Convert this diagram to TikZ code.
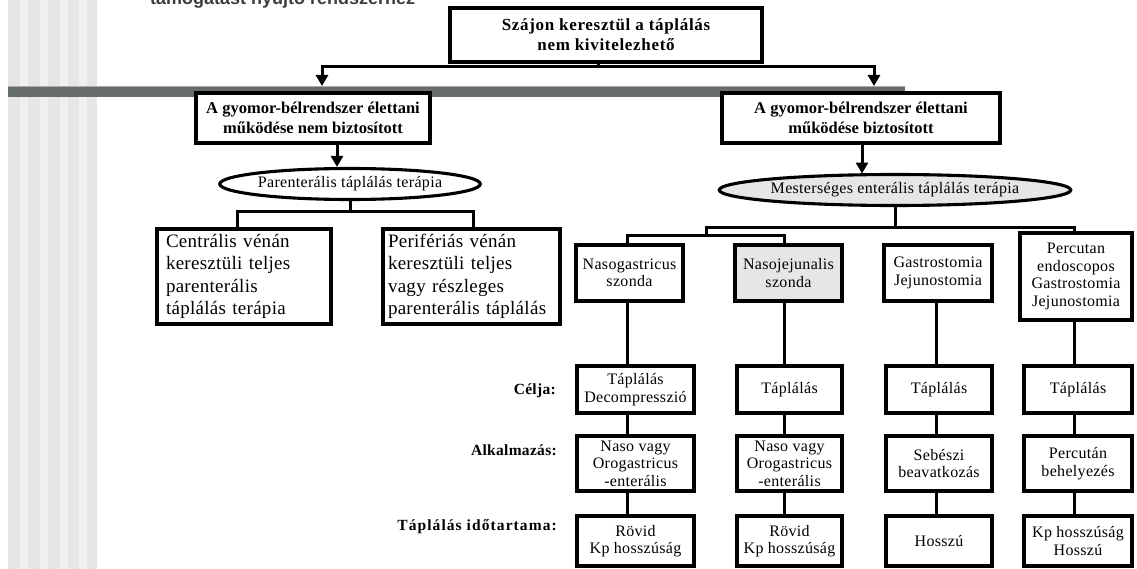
\documentclass[tikz,border=0pt]{standalone}
\usepackage{fontspec}
\setmainfont{Liberation Serif}
\newfontfamily\headfont{Liberation Sans}
\usetikzlibrary{arrows.meta,shapes.geometric}
\definecolor{stripeA}{HTML}{E6E6E6}
\definecolor{stripeB}{HTML}{EFF0EF}
\definecolor{barcol}{HTML}{676D6B}
\definecolor{barlight}{HTML}{A9AEAC}
\definecolor{shade}{HTML}{E6E6E6}
\definecolor{headcol}{HTML}{3C3C3C}
\newcommand\spaced[1]{\addfontfeature{LetterSpace=#1}}
\begin{document}
\begin{tikzpicture}[x=1pt,y=-1pt,
  box/.style={draw,line width=3.1pt,fill=white,inner sep=1pt,align=center},
  bigbox/.style={box,font=\fontsize{16.5}{20}\selectfont\bfseries},
  sidebox/.style={box,align=left,inner xsep=9pt,font=\fontsize{19}{22.5}\selectfont\spaced{1.5}},
  cell/.style={box,font=\fontsize{16}{17.5}\selectfont\spaced{2}},
  oval/.style={draw,ellipse,line width=3.1pt,inner sep=0pt,fill=white,
    font=\fontsize{16}{17}\selectfont\spaced{2}},
  rowlabel/.style={anchor=east,inner sep=0pt,font=\fontsize{15.5}{17}\selectfont\bfseries\spaced{2}},
  conn/.style={line width=3pt},
  arrow/.style={conn,-{Triangle[width=12pt,length=11pt]}}
]
\useasboundingbox (0,0) rectangle (1137,569);
\clip (0,0) rectangle (1137,569);

% striped band down the left edge
\fill[stripeA] (8,0) rectangle (97,569);
\foreach \a/\b in {20/28,40/48,60/68,79/87}
  \fill[stripeB] (\a,0) rectangle (\b,569);

% heading line, partly above the page
\node[anchor=base west,inner sep=0pt,text=headcol,
  font=\headfont\bfseries\fontsize{18}{20}\selectfont] (head) at (150,4.5)
  {támogatást nyújtó rendszerhez};

% horizontal rule
\fill[barcol] (8,87) rectangle (905,97);
\draw[barlight,line width=1pt] (8,86.8) -- (905,86.8);

% column positions
\coordinate (x1) at (627,0);
\coordinate (x2) at (784,0);
\coordinate (x3) at (936,0);
\coordinate (x4) at (1074,0);

% top level
\node[bigbox,font=\fontsize{17}{20}\selectfont\bfseries\spaced{4},
  minimum width=312,minimum height=54] (top) at (606,35)
  {Szájon keresztül a táplálás\\nem kivitelezhető};
\coordinate (j1) at (598,67);
\coordinate (aL) at (322,86);
\coordinate (aR) at (874,86);
\draw[conn] ([xshift=-8pt]top.south) -- (j1);
\draw[arrow] (j1) -| (aL);
\draw[arrow] (j1) -| (aR);

% second level
\node[bigbox,minimum width=234,minimum height=50] (L1) at (313,118)
  {A gyomor-bélrendszer élettani\\működése nem biztosított};
\node[bigbox,minimum width=278,minimum height=50] (R1) at (861,118)
  {A gyomor-bélrendszer élettani\\működése biztosított};

% therapy ellipses
\node[oval,minimum width=227,minimum height=31] (EL) at (350,184)
  {Parenterális táplálás terápia};
\node[oval,fill=shade,minimum width=292,minimum height=31] (ER) at (895,190)
  {Mesterséges enterális táplálás terápia};
\draw[arrow] ([xshift=24pt]L1.south) -- ([xshift=-13pt]EL.north);
\draw[arrow] ([xshift=1pt]R1.south) -- ([xshift=-33pt,yshift=-0.6pt]ER.north);

% parenteral branch
\node[sidebox,text width=156,minimum height=95] (C) at (244,276.5)
  {Centrális vénán\\keresztüli teljes\\parenterális\\táplálás terápia};
\node[sidebox,inner xsep=5pt,text width=167,minimum height=95] (P) at (471.5,276.5)
  {Perifériás vénán\\keresztüli teljes\\vagy részleges\\parenterális táplálás};
\coordinate (t1) at (350,212);
\draw[conn] (EL.south) -- (t1);
\draw[conn] ([xshift=-7pt]C.north) |- (t1) -| ([xshift=1.5pt]P.north);

% enteral access routes
\node[cell,minimum width=107,minimum height=56] (NG) at (629.5,273)
  {Nasogastricus\\szonda};
\node[cell,fill=shade,minimum width=107,minimum height=56] (NJ) at (788.5,273)
  {Nasojejunalis\\szonda};
\node[cell,minimum width=108,minimum height=56] (GJ) at (938,273)
  {Gastrostomia\\Jejunostomia};
\node[cell,minimum width=112,minimum height=87] (PE) at (1076,276.5)
  {Percutan\\endoscopos\\Gastrostomia\\Jejunostomia};
\coordinate (t2) at (895,228);
\coordinate (t3) at (706,236);
\draw[conn] (ER.south) -- (t2);
\draw[conn] (PE.north -| x4) |- (t2) -| (t3);
\draw[conn] (NG.north -| x1) |- (t3) -| (NJ.north -| x2);

% aim
\node[cell,minimum width=117,minimum height=47] (c1) at (635.5,389.5) {Táplálás\\Decompresszió};
\node[cell,minimum width=105,minimum height=47] (c2) at (789.5,389.5) {Táplálás};
\node[cell,minimum width=106,minimum height=47] (c3) at (939,389.5) {Táplálás};
\node[cell,minimum width=108,minimum height=47] (c4) at (1078,389.5) {Táplálás};

% application
\node[cell,minimum width=117,minimum height=55] (a1) at (635.5,463.5) {Naso vagy\\Orogastricus\\-enterális};
\node[cell,minimum width=105,minimum height=55] (a2) at (789.5,463.5) {Naso vagy\\Orogastricus\\-enterális};
\node[cell,minimum width=106,minimum height=55] (a3) at (939,463.5) {Sebészi\\beavatkozás};
\node[cell,minimum width=108,minimum height=55] (a4) at (1078,463.5) {Percután\\behelyezés};

% duration
\node[cell,minimum width=117,minimum height=50] (d1) at (635.5,541) {Rövid\\Kp hosszúság};
\node[cell,minimum width=105,minimum height=50] (d2) at (789.5,541) {Rövid\\Kp hosszúság};
\node[cell,minimum width=106,minimum height=50] (d3) at (939,541) {Hosszú};
\node[cell,minimum width=108,minimum height=50] (d4) at (1078,541) {Kp hosszúság\\Hosszú};

% column connectors
\foreach \r/\x/\c/\a/\d in {NG/x1/c1/a1/d1,NJ/x2/c2/a2/d2,GJ/x3/c3/a3/d3,PE/x4/c4/a4/d4}{
  \draw[conn] (\r.south -| \x) -- (\c.north -| \x);
  \draw[conn] (\c.south -| \x) -- (\a.north -| \x);
  \draw[conn] (\a.south -| \x) -- (\d.north -| \x);
}

% row labels
\node[rowlabel] (lc) at (556,391) {Célja:};
\node[rowlabel] (la) at (557,450) {Alkalmazás:};
\node[rowlabel,font=\fontsize{15.5}{17}\selectfont\bfseries\spaced{7}] (ld) at (557,527) {Táplálás időtartama:};
\end{tikzpicture}
\end{document}
